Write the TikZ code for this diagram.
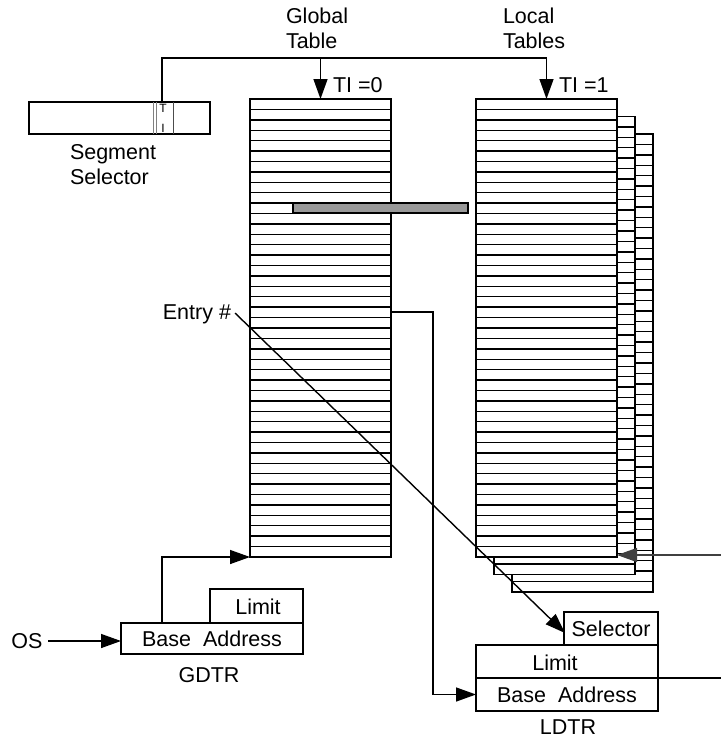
\documentclass[tikz,border=0pt]{standalone}
\usepackage{fontspec}
\setmainfont{Liberation Sans}
\usetikzlibrary{arrows.meta,calc}
\definecolor{barfill}{RGB}{153,153,153}
\begin{document}
\begin{tikzpicture}[x=1pt,y=-1pt, line width=1.4pt,
  lbl/.style={inner sep=0pt, outer sep=0pt, font=\fontsize{21.5}{25}\selectfont},
  box/.style={draw, fill=white, inner sep=0pt, outer sep=0pt, anchor=north west, font=\fontsize{21.5}{25}\selectfont},
  arr/.style={-{Triangle[length=20pt,width=14pt]}},
  tbl/.style={draw, fill=white, inner sep=0pt, outer sep=0pt, anchor=north west, minimum width=141pt, minimum height=458pt},
  ]
\useasboundingbox (0,0) rectangle (721,740);

% ---- tables ----
\node[tbl] (gt) at (250,99) {};
\foreach \i in {1,...,43} \draw ($(gt.north west)+(0,\i*10.409)$) -- ++(141,0);

\node[tbl] (lt3) at (512,134) {};
\foreach \i in {1,...,43} \draw ($(lt3.north west)+(0,\i*10.409)$) -- ++(141,0);
\node[tbl] (lt2) at (494,116.5) {};
\foreach \i in {1,...,43} \draw ($(lt2.north west)+(0,\i*10.409)$) -- ++(141,0);
\node[tbl] (lt1) at (476,99) {};
\foreach \i in {1,...,43} \draw ($(lt1.north west)+(0,\i*10.409)$) -- ++(141,0);

% gray bar
\node[draw, fill=barfill, inner sep=0pt, outer sep=0pt, anchor=north west, minimum width=175pt, minimum height=10pt] (bar) at (293,203) {};

% ---- labels at top ----
\node[lbl, anchor=west, align=left] (glab) at (286,28.5) {Global\\Table};
\node[lbl, anchor=west, align=left] (llab) at (503,28.5) {Local\\Tables};
\node[lbl, anchor=west] (ti0) at (333,85) {TI =0};
\node[lbl, anchor=west] (ti1) at (559,85) {TI =1};

% ---- segment selector ----
\node[box, minimum width=181pt, minimum height=32pt] (ssel) at (29,102) {};
\draw[gray] (153.5,102) -- (153.5,134);
\draw[gray] (156.5,102) -- (156.5,134);
\draw[black!70] (173.5,102) -- (173.5,134);
\node[inner sep=0pt, font=\fontsize{12}{13}\selectfont] (tT) at (163,108) {T};
\node[inner sep=0pt, font=\fontsize{12}{13}\selectfont] (tI) at (163,128) {I};
\node[lbl, anchor=west, align=left] (sslab) at (70,164.5) {Segment\\Selector};

\coordinate (tiTop) at (162,102);
\coordinate (bus) at (162,58);
\draw[arr] (tiTop) -- (bus) -| (lt1.north);
\draw[arr] (bus -| gt.north) -- (gt.north);

% ---- GDTR ----
\node[box, minimum width=93pt, minimum height=34pt] (glim) at (210,589) {};
\node[lbl] (glimt) at (258,607) {Limit};
\node[box, minimum width=182pt, minimum height=31pt] (gbase) at (121,623) {Base~~Address};
\node[lbl] (gdtr) at (209,675) {GDTR};
\node[lbl] (os) at (27,641) {OS};
\coordinate (osr) at (48,641);
\draw[arr] (osr) -- (osr -| gbase.west);
\coordinate (gup) at (162,623);
\draw[arr] (gup) |- (gt.south west);

% ---- LDTR ----
\node[box, minimum width=94pt, minimum height=33pt] (sel) at (564,612) {Selector};
\node[box, minimum width=182pt, minimum height=33pt] (llim) at (476,645) {};
\node[lbl] (llimt) at (555,663) {Limit};
\node[box, minimum width=182pt, minimum height=33pt] (lbase) at (476,678) {Base~~Address};
\draw[line width=2.4pt] (lbase.north west) -- (lbase.north east);
\node[lbl] (ldtr) at (568,727) {LDTR};
\coordinate (rr) at (721,678);
\draw (lbase.north east) -- (rr);

% ---- entry arrow ----
\node[lbl, anchor=east] (entry) at (231,314) {Entry \#};
\coordinate (es) at (235,313);
\coordinate (et) at (565,633);
\draw[arr] (es) -- (et);

% ---- global table to LDTR base ----
\coordinate (ge) at (391,312);
\coordinate (gk) at (433,312);
\draw[arr] (ge) -- (gk) |- (lbase.west);

% ---- right arrow into local table ----
\coordinate (re) at (721,555);
\draw[arr, black!75] (re) -- (re -| lt1.east);
\end{tikzpicture}
\end{document}
